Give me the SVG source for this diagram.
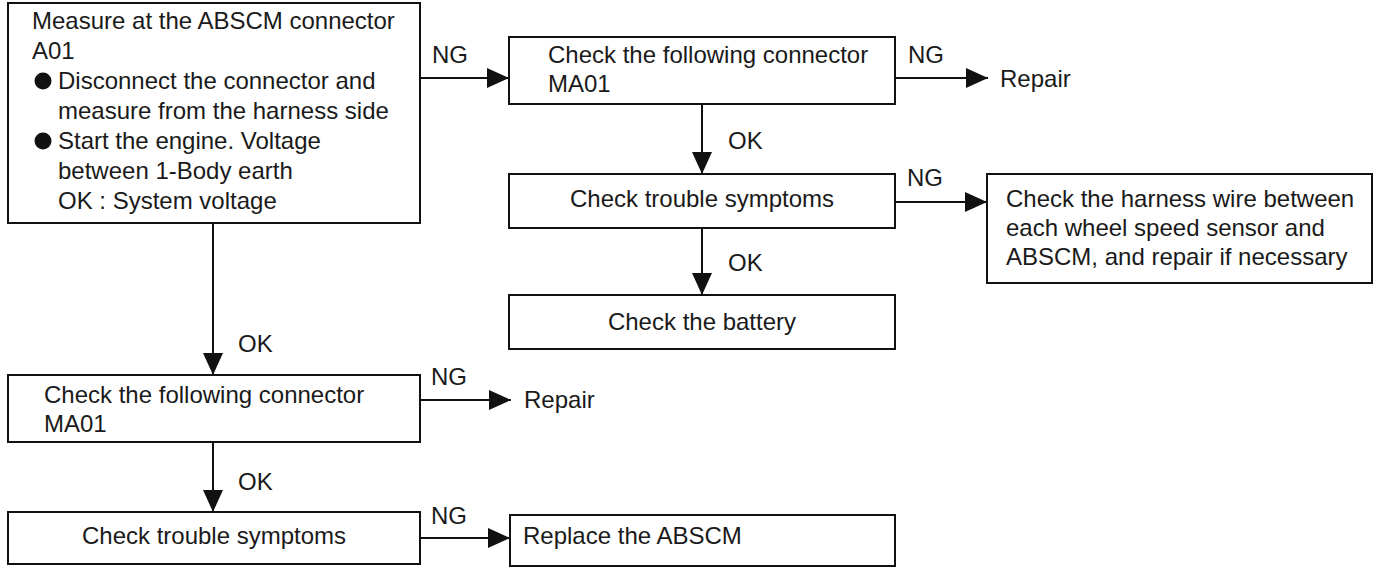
<svg xmlns="http://www.w3.org/2000/svg" width="1375" height="568" viewBox="0 0 1375 568">
<style>
.box{fill:#fff;stroke:#111;stroke-width:2}
.t{font-family:"Liberation Sans",Arial,sans-serif;font-size:24px;fill:#1a1a1a}
.c{text-anchor:middle}
.ln{stroke:#111;stroke-width:2;fill:none;marker-end:url(#ah)}
</style>
<defs>
<marker id="ah" viewBox="0 0 22 20" refX="22" refY="10" markerWidth="22" markerHeight="20" markerUnits="userSpaceOnUse" orient="auto">
<path d="M0,0 L22,10 L0,20 z" fill="#111"/>
</marker>
</defs>
<rect width="1375" height="568" fill="#fff"/>
<g id="connectors">
<line class="ln" x1="420" y1="78" x2="509" y2="78"/>
<text class="t" x="432" y="63">NG</text>
<line class="ln" x1="895" y1="78" x2="988" y2="78"/>
<text class="t" x="908" y="63">NG</text>
<line class="ln" x1="702" y1="104" x2="702" y2="174"/>
<text class="t" x="728" y="149">OK</text>
<line class="ln" x1="895" y1="202" x2="987" y2="202"/>
<text class="t" x="907" y="186">NG</text>
<line class="ln" x1="702" y1="228" x2="702" y2="295"/>
<text class="t" x="728" y="271">OK</text>
<line class="ln" x1="213" y1="223" x2="213" y2="375"/>
<text class="t" x="238" y="352">OK</text>
<line class="ln" x1="420" y1="400" x2="511" y2="400"/>
<text class="t" x="431" y="385">NG</text>
<line class="ln" x1="213" y1="442" x2="213" y2="512"/>
<text class="t" x="238" y="490">OK</text>
<line class="ln" x1="420" y1="538" x2="510" y2="538"/>
<text class="t" x="431" y="524">NG</text>
</g>
<g id="n1">
<rect class="box" x="8" y="3" width="412" height="220"/>
<text class="t" x="32" y="29">Measure at the ABSCM connector</text>
<text class="t" x="32" y="59">A01</text>
<circle cx="43" cy="81" r="8.5" fill="#111"/>
<text class="t" x="58" y="89">Disconnect the connector and</text>
<text class="t" x="58" y="119">measure from the harness side</text>
<circle cx="43" cy="141" r="8.5" fill="#111"/>
<text class="t" x="58" y="149">Start the engine. Voltage</text>
<text class="t" x="58" y="179">between 1-Body earth</text>
<text class="t" x="58" y="209">OK : System voltage</text>
</g>
<g id="n2">
<rect class="box" x="509" y="37" width="386" height="67"/>
<text class="t" x="548" y="63">Check the following connector</text>
<text class="t" x="548" y="92">MA01</text>
</g>
<g id="n3">
<text class="t" x="1000" y="87">Repair</text>
</g>
<g id="n4">
<rect class="box" x="509" y="174" width="386" height="54"/>
<text class="t c" x="702" y="207">Check trouble symptoms</text>
</g>
<g id="n5">
<rect class="box" x="987" y="174" width="385" height="109"/>
<text class="t" x="1006" y="207">Check the harness wire between</text>
<text class="t" x="1006" y="236">each wheel speed sensor and</text>
<text class="t" x="1006" y="265">ABSCM, and repair if necessary</text>
</g>
<g id="n6">
<rect class="box" x="509" y="295" width="386" height="54"/>
<text class="t c" x="702" y="330">Check the battery</text>
</g>
<g id="n7">
<rect class="box" x="8" y="375" width="412" height="67"/>
<text class="t" x="44" y="403">Check the following connector</text>
<text class="t" x="44" y="432">MA01</text>
</g>
<g id="n8">
<text class="t" x="524" y="408">Repair</text>
</g>
<g id="n9">
<rect class="box" x="8" y="512" width="412" height="52"/>
<text class="t c" x="214" y="544">Check trouble symptoms</text>
</g>
<g id="n10">
<rect class="box" x="510" y="515" width="385" height="51"/>
<text class="t" x="523" y="544">Replace the ABSCM</text>
</g>
</svg>
